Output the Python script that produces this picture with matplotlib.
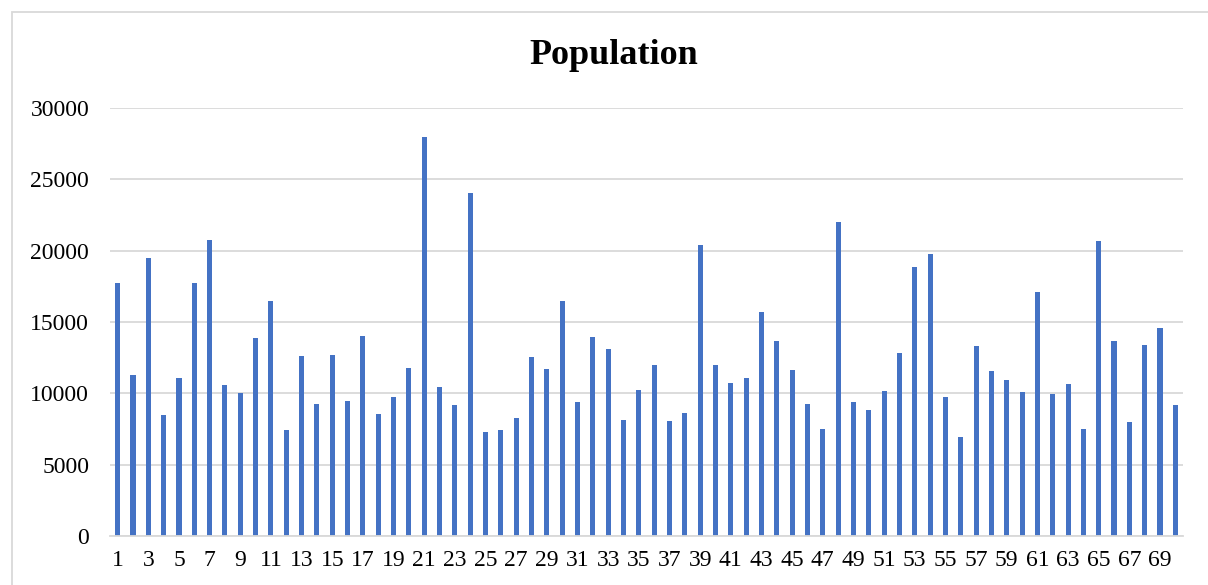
import matplotlib
matplotlib.use("Agg")
import matplotlib.pyplot as plt
from matplotlib.patches import Rectangle

categories = list(range(1, 71))
population = [
    17700, 11300, 19500, 8450, 11100, 17750, 20750, 10580, 10040, 13850,
    16450, 7420, 12600, 9240, 12700, 9480, 14000, 8540, 9710, 11770,
    28000, 10460, 9200, 24060, 7280, 7420, 8240, 12550, 11700, 16500,
    9360, 13970, 13100, 8140, 10230, 11960, 8030, 8610, 20430, 11960,
    10700, 11070, 15730, 13670, 11650, 9240, 7470, 22020, 9410, 8820,
    10160, 12800, 18860, 19780, 9760, 6930, 13320, 11560, 10910, 10090,
    17080, 9920, 10630, 7490, 20710, 13640, 7980, 13410, 14600, 9170,
]
yticks = [0, 5000, 10000, 15000, 20000, 25000, 30000]
xtick_labels = [str(c) for c in categories if c % 2 == 1]

plt.rcParams['font.family'] = ['Liberation Serif', 'DejaVu Serif']

fig = plt.figure(figsize=(12.08, 5.85), dpi=100)
ax = fig.add_axes([110/1208, 1-536/585, (1183-110)/1208, (536-108)/585])

ax.bar(categories, population, width=0.33, color='#4472C4', zorder=3)

ax.set_xlim(0.5, 70.5)
ax.set_ylim(0, 30000)
ax.set_yticks(yticks)
ax.set_yticklabels([str(v) for v in yticks])
ax.set_xticks([c for c in categories if c % 2 == 1])
ax.set_xticklabels(xtick_labels)
ax.tick_params(axis='both', length=0, labelsize=17, colors='black')
ax.tick_params(axis='y', pad=15)
ax.tick_params(axis='x', pad=10)
ax.grid(axis='y', color='#d9d9d9', linewidth=1.3, zorder=0)
for s in ['top', 'right', 'left']:
    ax.spines[s].set_visible(False)
ax.spines['bottom'].set_color('#d9d9d9')
ax.spines['bottom'].set_linewidth(1.3)
ax.spines['bottom'].set_zorder(4)

fig.text(614/1208, 1-55/585, 'Population', ha='center', va='center',
         fontsize=26, fontweight='bold')

# chart border
fig.patches.append(Rectangle((12/1208, -0.1), 1.2, 1 - 12/585 + 0.1,
                             transform=fig.transFigure, fill=False,
                             edgecolor='#d9d9d9', linewidth=1.3))

fig.savefig('out.png', dpi=100)
